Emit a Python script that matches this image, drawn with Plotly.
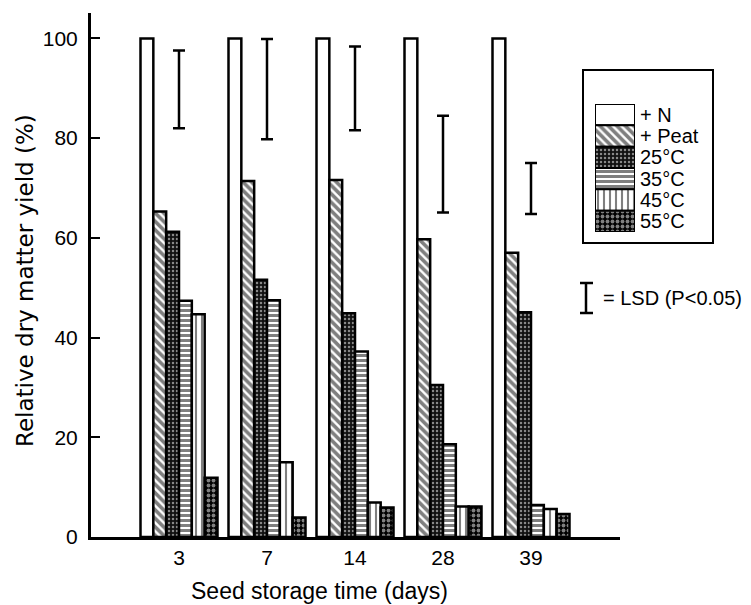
import numpy as np
import plotly.graph_objects as go

# ---------------- data ----------------
storage_days = ["3", "7", "14", "28", "39"]
series_names = ["+ N", "+ Peat", "25°C", "35°C", "45°C", "55°C"]

yield_plus_n = [100.0, 100.0, 100.0, 100.0, 100.0]
yield_peat = [65.3, 71.4, 71.6, 59.7, 57.0]
yield_25c = [61.2, 51.6, 44.9, 30.5, 45.1]
yield_35c = [47.4, 47.5, 37.2, 18.6, 6.4]
yield_45c = [44.7, 15.0, 6.9, 6.1, 5.6]
yield_55c = [11.9, 3.9, 5.9, 6.1, 4.6]

lsd_upper = [97.6, 99.9, 98.4, 84.5, 75.0]
lsd_lower = [82.0, 79.8, 81.6, 65.1, 64.8]

y_ticks = [0, 20, 40, 60, 80, 100]

# ---------------- styling ----------------
FONT = "Liberation Sans, Arial, sans-serif"
patterns = [
    dict(shape="", fgcolor="black", bgcolor="white", size=6, solidity=0.4),
    dict(shape="\\", fgcolor="black", bgcolor="white", size=6, solidity=0.6),
    dict(shape=".", fgcolor="white", bgcolor="#111111", size=4, solidity=0.3),
    dict(shape="-", fgcolor="black", bgcolor="white", size=5, solidity=0.6),
    dict(shape="|", fgcolor="black", bgcolor="white", size=6, solidity=0.35),
    dict(shape=".", fgcolor="white", bgcolor="black", size=5, solidity=0.45),
]
series_values = [yield_plus_n, yield_peat, yield_25c, yield_35c, yield_45c, yield_55c]

# pixel geometry helpers (layout positions only)
L, R, T, B, W, H = 91, 20, 13, 68, 751, 605
PW, PH = W - L - R, H - T - B
def px(xp):
    return (xp - L) / PW
def py(yp):
    return (H - B - yp) / PH

x_pos = np.arange(1, len(storage_days) + 1)

fig = go.Figure()

for name, vals, pat in zip(series_names, series_values, patterns):
    fig.add_bar(
        x=x_pos, y=vals, name=name, showlegend=False,
        marker=dict(color="white", line=dict(color="black", width=2.5), pattern=pat),
    )

lsd_u = np.array(lsd_upper)
lsd_l = np.array(lsd_lower)
fig.add_scatter(
    x=x_pos, y=(lsd_u + lsd_l) / 2, mode="markers", showlegend=False,
    marker=dict(size=1, color="rgba(0,0,0,0)"),
    error_y=dict(type="data", array=(lsd_u - lsd_l) / 2, visible=True,
                 color="black", thickness=2.5, width=6),
    hoverinfo="skip",
)

# legend key swatches drawn as bars in an inset axis
fig.add_bar(
    x=[1] * len(series_names), y=series_names, orientation="h",
    xaxis="x2", yaxis="y2", width=1, showlegend=False, hoverinfo="skip",
    marker=dict(
        color="white", line=dict(color="black", width=2),
        pattern=dict(
            shape=[p["shape"] for p in patterns],
            fgcolor=[p["fgcolor"] for p in patterns],
            bgcolor=[p["bgcolor"] for p in patterns],
            size=[p["size"] for p in patterns],
            solidity=[p["solidity"] for p in patterns],
        ),
    ),
)

x_right = (620 - L) / PW
fig.update_layout(
    width=W, height=H, autosize=False,
    margin=dict(l=L, r=R, t=T, b=B),
    paper_bgcolor="white", plot_bgcolor="white",
    barmode="group", bargap=0.125, bargroupgap=0,
    font=dict(family=FONT, color="black"),
    xaxis=dict(
        domain=[0, x_right], range=[0, (620 - L) / 88.0],
        tickmode="array", tickvals=x_pos, ticktext=storage_days,
        showline=True, linewidth=3, linecolor="black", ticks="",
        showgrid=False, zeroline=False,
        tickfont=dict(family=FONT, size=21, color="black"),
    ),
    yaxis=dict(
        range=[0, 105.1], tickmode="array", tickvals=y_ticks,
        showline=True, linewidth=3, linecolor="black",
        ticks="inside", ticklen=9, tickwidth=1.5, tickcolor="black",
        showgrid=False, zeroline=False, ticklabelstandoff=6,
        tickfont=dict(family=FONT, size=21, color="black"),
    ),
    xaxis2=dict(
        domain=[px(595), px(635)], range=[0, 1], anchor="y2",
        visible=False, fixedrange=True,
    ),
    yaxis2=dict(
        domain=[py(232), py(104)], anchor="x2", side="right",
        type="category", tickmode="array", tickvals=series_names,
        ticktext=series_names,
        range=[len(series_names) - 0.5, -0.5],
        showline=False, showgrid=False, zeroline=False, ticks="",
        ticklabelstandoff=4, fixedrange=True,
        tickfont=dict(family=FONT, size=20, color="black"),
    ),
    shapes=[
        dict(type="rect", xref="paper", yref="paper",
             x0=px(583), x1=px(713), y0=py(243), y1=py(70),
             line=dict(color="black", width=2), fillcolor="rgba(0,0,0,0)"),
        dict(type="line", xref="paper", yref="paper",
             x0=px(586), x1=px(586), y0=py(313), y1=py(283),
             line=dict(color="black", width=2.5)),
        dict(type="line", xref="paper", yref="paper",
             x0=px(580), x1=px(593), y0=py(283), y1=py(283),
             line=dict(color="black", width=2.5)),
        dict(type="line", xref="paper", yref="paper",
             x0=px(580), x1=px(593), y0=py(313), y1=py(313),
             line=dict(color="black", width=2.5)),
    ],
    annotations=[
        dict(text="= LSD (P<0.05)", xref="paper", yref="paper",
             x=px(601), y=py(298), xanchor="left", yanchor="middle",
             showarrow=False, font=dict(family=FONT, size=20, color="black")),
        dict(text="Seed storage time (days)", xref="paper", yref="paper",
             x=px(319), y=py(591), xanchor="center", yanchor="middle",
             showarrow=False, font=dict(family=FONT, size=23, color="black")),
        dict(text="Relative dry matter yield (%)", xref="paper", yref="paper",
             x=px(25), y=py(281), xanchor="center", yanchor="middle",
             textangle=-90, showarrow=False,
             font=dict(family="DejaVu Sans, sans-serif", size=23, color="black")),
    ],
)

fig.write_html(
    "out.html",
    config={"displayModeBar": False},
    post_script="document.body.style.margin='0px';document.body.style.overflow='hidden';",
)
